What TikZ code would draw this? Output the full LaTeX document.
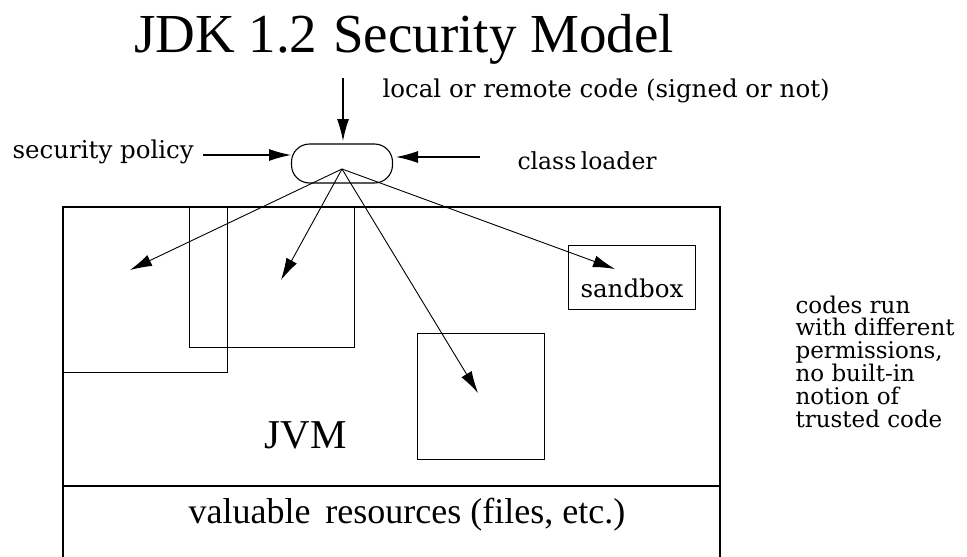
\documentclass[tikz,border=0pt]{standalone}
\usepackage{fontspec}
\setmainfont{Liberation Serif}
\newfontfamily\slabfont{DejaVu Serif}
\usetikzlibrary{arrows.meta}

\begin{document}
\begin{tikzpicture}[x=1pt, y=-1pt, line width=1.1pt,
	dart/.style={-{Latex[length=22pt, width=12pt]}},
	slab/.style={font=\slabfont\fontsize{24.5}{28}\selectfont, inner sep=0pt},
	frame/.style={draw, inner sep=0pt, anchor=north west}]
	\useasboundingbox (0, 0) rectangle (967, 557);
	% title and the code coming in
	\node[anchor=base, inner sep=0pt, font=\fontsize{55}{62}\selectfont] (title) at (404, 52) {JDK 1.2\hspace{16pt}Security Model};
	\node[slab, anchor=base west] (code) at (382, 97) {local or remote code (signed or not)};
	\node[slab, anchor=base west] (policy) at (12, 158) {security policy};
	\node[slab, anchor=base west, font=\slabfont\fontsize{23.5}{28}\selectfont] (classloader) at (517, 169) {class\hspace{-3pt} loader};
	\node[draw, rounded corners=18pt, minimum width=101pt, minimum height=39pt] (loader) at (342, 163.5) {};
	\coordinate (fan) at (342, 169);
	\coordinate (codein) at (343, 78);
	\coordinate (policyin) at (203, 155);
	\coordinate (classin) at (480, 157);
	\draw[dart] (codein) -- (343, 141);
	\draw[dart] (policyin) -- (291, 155);
	\draw[dart] (classin) -- (396, 157);
	% the JVM, open at the bottom
	\coordinate (jvmSW) at (63, 557);
	\coordinate (jvmNE) at (720, 207);
	\draw (jvmSW) |- (jvmNE) -- (720, 557);
	\draw (63, 486) -- (720, 486);
	\node[anchor=base west, inner sep=0pt, font=\fontsize{41}{46}\selectfont] (jvm) at (264, 448) {JVM};
	\node[anchor=base west, inner sep=0pt, font=\fontsize{36}{42}\selectfont] (resources) at (188, 523) {valuable\hspace{6pt} resources (files, etc.)};
	% protection domains
	\node[frame, minimum width=164pt, minimum height=165pt] (domA) at (63, 207) {};
	\node[frame, minimum width=165pt, minimum height=140pt] (domB) at (189, 207) {};
	\node[frame, minimum width=127pt, minimum height=126pt] (domC) at (417, 333) {};
	\node[frame, minimum width=127pt, minimum height=64pt] (sandbox) at (568, 245) {};
	\node[slab, anchor=base west] (sandboxlabel) at (580, 297) {sandbox};
	\coordinate (tipA) at (130, 270);
	\coordinate (tipB) at (281, 280);
	\coordinate (tipC) at (478, 393);
	\coordinate (tipS) at (615, 269);
	\foreach \t in {tipA, tipB, tipC, tipS}
		\draw[dart, line width=0.9pt] (fan) -- (\t);
	% note on the right
	\node[slab, anchor=north west, align=left, font=\slabfont\fontsize{23}{22.8}\selectfont] (note) at (795, 295) {codes run\\with different\\permissions,\\no built-in\\notion of\\trusted code};
\end{tikzpicture}
\end{document}
